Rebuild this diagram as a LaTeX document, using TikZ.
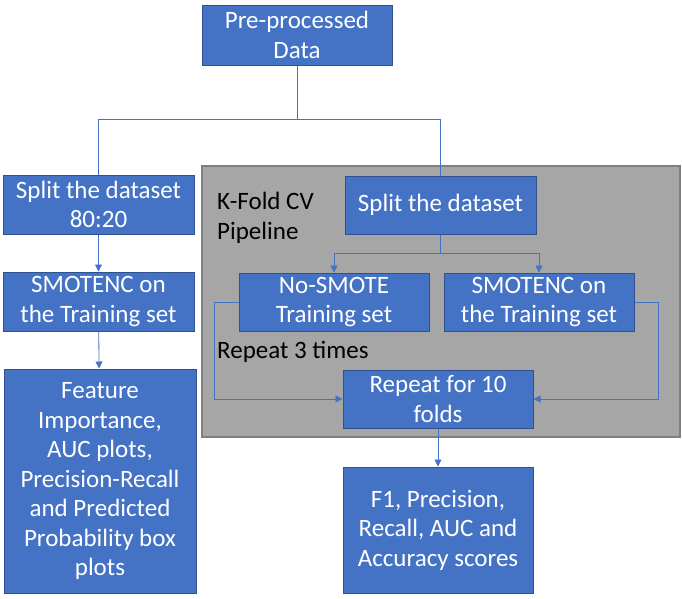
\documentclass[tikz,border=0pt]{standalone}
\usepackage{fontspec}
\setmainfont{Carlito}
\usetikzlibrary{arrows.meta,positioning}
\definecolor{boxblue}{HTML}{4472C4}
\definecolor{boxedge}{HTML}{2F528F}
\definecolor{cvgray}{HTML}{A6A6A6}
\definecolor{cvedge}{HTML}{7F7F7F}

\begin{document}
\begin{tikzpicture}[x=1pt, y=-1pt,
  blk/.style={draw=boxedge, line width=1pt, fill=boxblue, text=white, align=center,
    inner sep=0pt, font=\fontsize{25}{29.5}\selectfont},
  lbl/.style={anchor=west, align=left, inner sep=0pt, font=\fontsize{25}{29.5}\selectfont},
  conn/.style={draw=boxblue, line width=0.8pt},
  tip/.style={conn, -{Triangle[length=7pt, width=7pt]}}]
  \useasboundingbox (0,0) rectangle (682,598);

  \node[draw=cvedge, line width=1.5pt, fill=cvgray, minimum width=478pt, minimum height=271pt] (cv) at (441,301.5) {};
  \node[lbl] (kfold) at (217,218) {K-Fold CV\\Pipeline};
  \node[lbl] (times) at (217,352) {Repeat 3 times};

  \node[blk, minimum width=190pt, minimum height=60pt] (pre) at (297,35) {Pre-processed\\Data};
  \node[blk, minimum width=191pt, minimum height=59pt] (splitA) at (98.5,204.5) {Split the dataset\\80:20};
  \node[blk, minimum width=191pt, minimum height=59pt] (smoteA) at (98.5,301.5) {SMOTENC on\\the Training set};
  \node[blk, minimum width=192pt, minimum height=224pt] (feat) at (100,481) {Feature\\Importance,\\AUC plots,\\Precision-Recall\\and Predicted\\Probability box\\plots};

  \node[blk, minimum width=191pt, minimum height=58pt] (splitB) at (440.5,205) {Split the dataset};
  \node[blk, minimum width=190pt, minimum height=58pt] (nosmote) at (334,302) {No-SMOTE\\Training set};
  \node[blk, minimum width=190pt, minimum height=58pt] (smoteB) at (539,302) {SMOTENC on\\the Training set};
  \node[blk, minimum width=190pt, minimum height=58pt] (folds) at (438,399) {Repeat for 10\\folds};
  \node[blk, minimum width=190pt, minimum height=126pt] (scores) at (438,530) {F1, Precision,\\Recall, AUC and\\Accuracy scores};

  \coordinate (fork) at (297,119);
  \coordinate (forkB) at (440.5,253);

  \draw[conn] (pre) -- (fork) -| (splitA);
  \draw[conn] (fork) -| (splitB);
  \draw[tip] (splitA) -- (smoteA);
  \draw[tip] (smoteA) -- (feat);

  \draw[conn] (splitB) -- (forkB);
  \draw[tip] (forkB) -| (nosmote);
  \draw[tip] (forkB) -| (smoteB);
  \draw[tip] (nosmote.west) -- ++(-24,0) |- (folds.west);
  \draw[tip] (smoteB.east) -- ++(24,0) |- (folds.east);
  \draw[tip] (folds) -- (scores);
\end{tikzpicture}
\end{document}
